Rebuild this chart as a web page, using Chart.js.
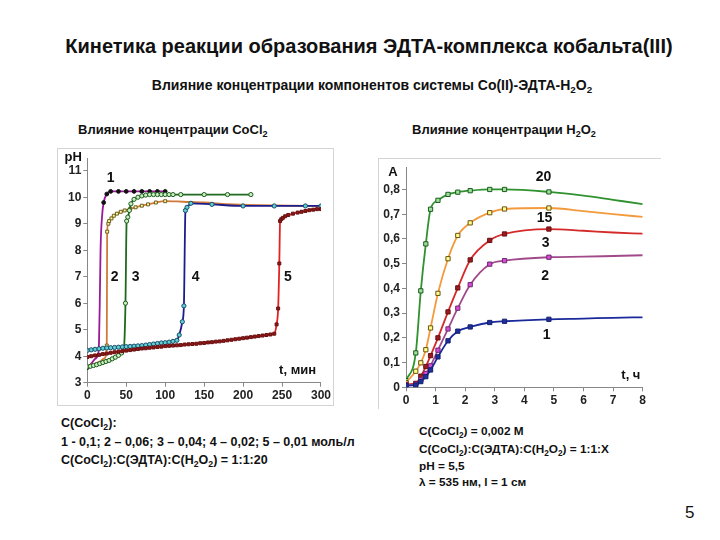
<!DOCTYPE html>
<html>
<head>
<meta charset="utf-8">
<script src="https://cdn.jsdelivr.net/npm/chart.js@4/dist/chart.umd.min.js"></script>
<style>
body{margin:0;width:720px;height:540px;background:#fff;position:relative;overflow:hidden;font-family:"Liberation Sans",Arial,sans-serif;color:#111}
.t{position:absolute;white-space:nowrap;font-weight:bold}
.t sub{font-size:70%;vertical-align:-3px;line-height:0}
canvas{position:absolute}
#frameL{position:absolute;left:57px;top:148px;width:275px;height:256px;border:1px solid #d4d4d4}
#frameR{position:absolute;left:378px;top:158px;width:282px;height:250px;border-left:1px solid #d4d4d4;border-top:1px solid #d4d4d4}
</style>
</head>
<body>
<div class="t" style="left:0;width:738px;text-align:center;top:35px;font-size:20px">Кинетика реакции образования ЭДТА-комплекса кобальта(III)</div>
<div class="t" style="left:0;width:744px;text-align:center;top:77px;font-size:14px">Влияние концентрации компонентов системы Co(II)-ЭДТА-H<sub>2</sub>O<sub>2</sub></div>
<div class="t" style="left:78px;top:122px;font-size:13px">Влияние концентрации CoCl<sub>2</sub></div>
<div class="t" style="left:412px;top:122px;font-size:13px">Влияние концентрации H<sub>2</sub>O<sub>2</sub></div>

<div id="frameL"></div>
<div id="frameR"></div>
<canvas id="chartL" width="276" height="257" style="left:57px;top:148px"></canvas>
<canvas id="chartR" width="282" height="250" style="left:378px;top:158px"></canvas>

<div class="t" style="left:61px;top:416px;font-size:12.5px">C(CoCl<sub>2</sub>):</div>
<div class="t" style="left:61px;top:435px;font-size:12.5px">1 - 0,1; 2 – 0,06; 3 – 0,04; 4 – 0,02; 5 – 0,01 моль/л</div>
<div class="t" style="left:61px;top:453px;font-size:12.5px">C(CoCl<sub>2</sub>):C(ЭДТА):C(H<sub>2</sub>O<sub>2</sub>) = 1:1:20</div>

<div class="t" style="left:419px;top:424px;font-size:11.8px">C(CoCl<sub>2</sub>) = 0,002 M</div>
<div class="t" style="left:419px;top:442px;font-size:11.8px">C(CoCl<sub>2</sub>):C(ЭДТА):C(H<sub>2</sub>O<sub>2</sub>) = 1:1:X</div>
<div class="t" style="left:419px;top:459px;font-size:11.8px">pH = 5,5</div>
<div class="t" style="left:419px;top:475px;font-size:11.8px">λ = 535 нм, l = 1 см</div>

<div style="position:absolute;left:685px;top:503px;font-size:17px">5</div>

<script>
// ---- left chart: pH vs time (min), curves 1..5 ----
const t1 = [0, 5, 10, 14, 15, 16, 17, 19, 21, 25, 30, 40, 50, 60, 70, 80, 90, 100];
const ph1 = [3.57, 3.72, 3.9, 4.1, 4.5, 6.0, 8.0, 9.3, 9.8, 10.12, 10.22, 10.22, 10.22, 10.22, 10.22, 10.22, 10.22, 10.22];

const t2 = [0, 8, 16, 22, 25, 25.5, 27, 28, 31, 34, 38, 43, 48, 55, 62, 70, 78, 88, 100, 115, 130, 150, 180, 220, 260, 300];
const ph2 = [3.63, 3.7, 3.8, 3.92, 4.4, 8.7, 9.0, 9.1, 9.2, 9.3, 9.38, 9.45, 9.5, 9.56, 9.62, 9.68, 9.73, 9.8, 9.85, 9.84, 9.82, 9.8, 9.74, 9.7, 9.68, 9.67];

const t3 = [0, 4, 8, 12, 16, 20, 24, 28, 32, 36, 40, 44, 47, 49, 50.5, 52, 54, 56, 60, 65, 70, 75, 80, 85, 90, 95, 100, 105, 110, 120, 150, 180, 210];
const ph3 = [3.6, 3.62, 3.65, 3.68, 3.72, 3.76, 3.8, 3.84, 3.9, 3.96, 4.03, 4.12, 4.3, 6.0, 9.1, 9.25, 9.5, 9.75, 9.92, 10.0, 10.05, 10.08, 10.1, 10.1, 10.1, 10.1, 10.1, 10.1, 10.1, 10.1, 10.1, 10.1, 10.1];

const t4 = [0, 5, 10, 15, 20, 25, 30, 35, 40, 45, 50, 55, 60, 65, 70, 75, 80, 85, 90, 95, 100, 105, 110, 115, 118, 122, 124, 126, 128, 133, 160, 200, 240, 280, 300];
const ph4 = [4.22, 4.24, 4.26, 4.28, 4.3, 4.31, 4.32, 4.33, 4.34, 4.35, 4.36, 4.37, 4.38, 4.39, 4.4, 4.42, 4.44, 4.46, 4.48, 4.5, 4.51, 4.53, 4.56, 4.6, 4.8, 5.3, 5.9, 9.5, 9.62, 9.77, 9.73, 9.67, 9.67, 9.67, 9.67];

const t5 = [0, 5, 10, 15, 20, 25, 30, 35, 40, 45, 50, 55, 60, 65, 70, 75, 80, 85, 90, 95, 100, 105, 110, 115, 120, 125, 130, 135, 140, 145, 150, 155, 160, 165, 170, 175, 180, 185, 190, 195, 200, 205, 210, 215, 220, 225, 230, 235, 240, 243, 245, 246.5, 247.5, 249, 251, 254, 258, 264, 270, 275, 280, 285, 290, 295, 300];
const ph5 = [3.97, 4.0, 4.03, 4.05, 4.08, 4.1, 4.13, 4.15, 4.17, 4.19, 4.21, 4.23, 4.25, 4.27, 4.29, 4.3, 4.32, 4.33, 4.35, 4.36, 4.38, 4.39, 4.4, 4.41, 4.42, 4.44, 4.45, 4.46, 4.47, 4.49, 4.5, 4.52, 4.53, 4.55, 4.56, 4.58, 4.6, 4.62, 4.64, 4.66, 4.68, 4.7, 4.72, 4.74, 4.76, 4.78, 4.8, 4.82, 4.85, 5.2, 5.8, 7.5, 9.1, 9.17, 9.22, 9.28, 9.33, 9.38, 9.42, 9.45, 9.48, 9.51, 9.53, 9.55, 9.55];

const xTicksL = [0, 50, 100, 150, 200, 250, 300];
const yTicksL = [3, 4, 5, 6, 7, 8, 9, 10, 11];

// ---- right chart: absorbance vs time (h), H2O2 excess 1,2,3,15,20 ----
const tA = [0, 0.33, 0.5, 0.67, 0.83, 1.08, 1.42, 1.75, 2.17, 2.83, 3.33, 4.83, 6, 7, 8];
const a20 = [0.027, 0.139, 0.39, 0.58, 0.72, 0.756, 0.78, 0.789, 0.795, 0.8, 0.8, 0.79, 0.775, 0.758, 0.741];
const a15 = [0.019, 0.065, 0.099, 0.152, 0.24, 0.38, 0.52, 0.614, 0.665, 0.706, 0.721, 0.725, 0.712, 0.7, 0.689];
const a3 = [0.012, 0.016, 0.045, 0.084, 0.128, 0.2, 0.305, 0.402, 0.515, 0.594, 0.62, 0.64, 0.633, 0.626, 0.621];
const a2 = [0.009, 0.012, 0.03, 0.056, 0.087, 0.15, 0.236, 0.32, 0.415, 0.498, 0.512, 0.526, 0.528, 0.531, 0.534];
const a1 = [0.007, 0.009, 0.023, 0.043, 0.07, 0.123, 0.188, 0.227, 0.244, 0.262, 0.267, 0.275, 0.278, 0.281, 0.283];

const xTicksR = [0, 1, 2, 3, 4, 5, 6, 7, 8];
const yTicksR = [0, 0.1, 0.2, 0.3, 0.4, 0.5, 0.6, 0.7, 0.8];

Chart.defaults.font.family = '"Liberation Sans", Arial, sans-serif';
Chart.defaults.font.weight = 'bold';
Chart.defaults.font.size = 12;
Chart.defaults.color = '#222';

const pts = (xs, ys) => xs.map((x, i) => ({x: x, y: ys[i]}));

// draws free text at data coordinates
const textPlugin = {
    id: 'textLabels',
    afterDatasetsDraw(chart, args, opts) {
        const ctx = chart.ctx, xs = chart.scales.x, ys = chart.scales.y;
        ctx.save();
        ctx.fillStyle = '#111';
        ctx.textAlign = 'center';
        ctx.textBaseline = 'middle';
        (opts.items || []).forEach(it => {
            ctx.font = it.font || 'bold 14px "Liberation Sans", Arial';
            ctx.fillText(it.text, xs.getPixelForValue(it.x), ys.getPixelForValue(it.y));
        });
        ctx.restore();
    }
};

function axis(min, max, tickVals, fmt, fitSize, isY) {
    return {
        type: 'linear', min: min, max: max,
        afterBuildTicks: s => { s.ticks = tickVals.map(v => ({value: v})); },
        afterFit: s => { if (isY) s.width = fitSize; else s.height = fitSize; },
        grid: {drawOnChartArea: false, tickLength: 4, color: '#888'},
        border: {color: '#888'},
        ticks: {padding: 2, callback: fmt, autoSkip: false, maxRotation: 0}
    };
}

function lineSet(data, color, ptFill, ptBorder, style, radius, markIf) {
    return {
        data: data, borderColor: color, borderWidth: 1.8,
        pointStyle: style, pointBackgroundColor: ptFill, pointBorderColor: ptBorder,
        pointBorderWidth: 1,
        pointRadius: c => (markIf && !markIf(c.raw)) ? 0 : radius,
        cubicInterpolationMode: 'monotone', fill: false
    };
}

new Chart(document.getElementById('chartL'), {
    type: 'line',
    data: {datasets: [
        lineSet(pts(t5, ph5), '#e52222', '#8c1a1a', '#6a1010', 'rect', 2.1),
        lineSet(pts(t4, ph4), '#1c1c8c', '#5fd0d0', '#1a4a6a', 'circle', 2.1),
        lineSet(pts(t3, ph3), '#1d6a1d', '#c8f0c0', '#1d5a1d', 'circle', 2.1),
        lineSet(pts(t2, ph2), '#d07a3a', '#ffffa0', '#6a5a20', 'rect', 2.1, p => p.x >= 25 && p.x <= 100),
        lineSet(pts(t1, ph1), '#9a1a9a', '#111', '#111', 'circle', 1.9, p => p.x === 0 || p.x >= 21)
    ]},
    options: {
        responsive: false, animation: false, devicePixelRatio: 1,
        layout: {padding: {top: 10, right: 10.3, left: 0, bottom: 0}},
        plugins: {
            legend: {display: false}, tooltip: {enabled: false},
            textLabels: {items: [
                {text: '1', x: 30, y: 10.71}, {text: '2', x: 35, y: 6.97}, {text: '3', x: 62, y: 6.97},
                {text: '4', x: 139, y: 6.97}, {text: '5', x: 257.5, y: 6.97},
                {text: 'pH', x: -18, y: 11.52, font: 'bold 13px "Liberation Sans", Arial'},
                {text: 't, мин', x: 270, y: 3.47, font: 'bold 13px "Liberation Sans", Arial'}
            ]}
        },
        scales: {
            x: axis(0, 300, xTicksL, v => v, 22.3, false),
            y: axis(3, 11.48, yTicksL, v => v, 30.3, true)
        }
    },
    plugins: [textPlugin]
});

const commaFmt = v => v === 0 ? '0' : v.toFixed(1).replace('.', ',');
const markR = p => p.x <= 5;

new Chart(document.getElementById('chartR'), {
    type: 'line',
    data: {datasets: [
        lineSet(pts(tA, a1), '#1a2a9a', '#1f2fa0', '#14206a', 'rect', 3, markR),
        lineSet(pts(tA, a2), '#a04a8c', '#d84ad8', '#6a2a6a', 'rect', 3, markR),
        lineSet(pts(tA, a3), '#d42a2a', '#9a1a22', '#6a1010', 'rect', 3, markR),
        lineSet(pts(tA, a15), '#f29a3c', '#ffff8a', '#6a5010', 'rect', 3, markR),
        lineSet(pts(tA, a20), '#2f922f', '#9ce09c', '#1d5a1d', 'rect', 3, markR)
    ]},
    options: {
        responsive: false, animation: false, devicePixelRatio: 1,
        layout: {padding: {top: 7, right: 17.3, left: 0, bottom: 0}},
        plugins: {
            legend: {display: false}, tooltip: {enabled: false},
            textLabels: {items: [
                {text: '20', x: 4.65, y: 0.85}, {text: '15', x: 4.68, y: 0.684}, {text: '3', x: 4.72, y: 0.584},
                {text: '2', x: 4.7, y: 0.45}, {text: '1', x: 4.75, y: 0.21},
                {text: 'A', x: -0.44, y: 0.867, font: 'bold 13px "Liberation Sans", Arial'},
                {text: 't, ч', x: 7.6, y: 0.05, font: 'bold 13px "Liberation Sans", Arial'}
            ]}
        },
        scales: {
            x: axis(0, 8, xTicksR, v => v, 20.7, false),
            y: axis(0, 0.89, yTicksR, commaFmt, 28, true)
        }
    },
    plugins: [textPlugin]
});
</script>
</body>
</html>
